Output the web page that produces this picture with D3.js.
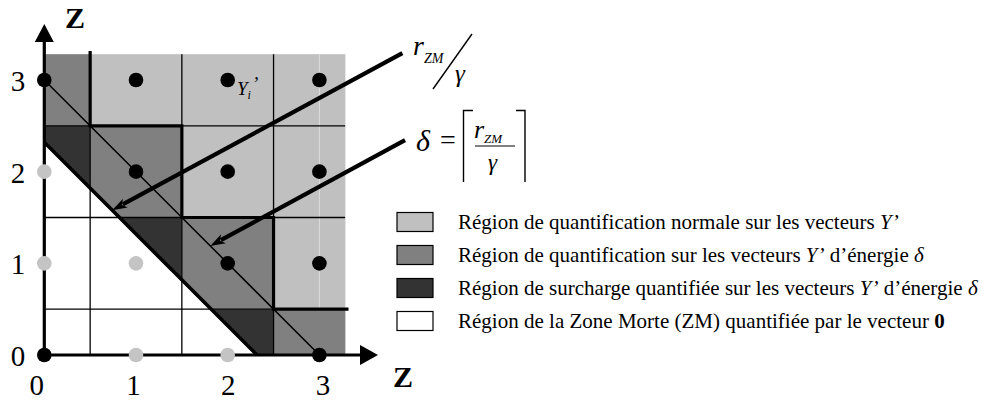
<!DOCTYPE html>
<html><head><meta charset="utf-8">
<script src="https://cdn.jsdelivr.net/npm/d3@7"></script>
<style>
html,body{margin:0;padding:0;background:#fff;}
svg{display:block;}
svg text{font-family:"Liberation Serif","Times New Roman",serif;fill:#000;}
</style></head>
<body><svg id="c" width="999" height="401"></svg>
<script>
// ---- data ----
const tickValues = [0, 1, 2, 3];
const tickLabels = ["0", "1", "2", "3"];
const blackPoints = [[0,3],[1,3],[2,3],[3,3],[1,2],[2,2],[3,2],[2,1],[3,1],[0,0],[3,0]];
const grayPoints = [[0,2],[0,1],[1,1],[1,0],[2,0]];
const rOverGamma = 2.32;      // dead-zone radius r_ZM / gamma
const delta = 3;              // ceil(r_ZM / gamma)
const gridExtent = 3.28;      // extent of the shaded lattice area
const staircase = [[0.5,3.3],[0.5,2.5],[1.5,2.5],[1.5,1.5],[2.5,1.5],[2.5,0.5],[3.3,0.5]];
const arrowRZM = {from:[3.905,3.293], to:[0.74,rOverGamma-0.74]};
const arrowDelta = {from:[3.934,2.345], to:[1.81,delta-1.81]};
const legendLabels = [
  ["Région de quantification normale sur les vecteurs ", ["Y’","i"]],
  ["Région de quantification sur les vecteurs ", ["Y’","i"], " d’énergie ", ["δ","i"]],
  ["Région de surcharge quantifiée sur les vecteurs ", ["Y’","i"], " d’énergie ", ["δ","i"]],
  ["Région de la Zone Morte (ZM) quantifiée par le vecteur ", ["0","b"]]
];
const colors = {light:"#c0c0c0", medium:"#808080", dark:"#333333", dead:"#ffffff", grayDot:"#c4c4c4"};
const legendColors = [colors.light, colors.medium, colors.dark, colors.dead];

// ---- drawing ----
const svg = d3.select("#c");
const x = d3.scaleLinear().domain([0,3]).range([44.3, 319.4]);
const y = d3.scaleLinear().domain([0,3]).range([355, 80]);
const line = d3.line().x(d=>x(d[0])).y(d=>y(d[1]));

// cells
const cells = [];
for (let i=0;i<=3;i++) for (let j=0;j<=3;j++) {
  const s = i+j;
  cells.push({x0:Math.max(0,i-0.5), x1:i===3?gridExtent:i+0.5,
              y0:Math.max(0,j-0.5), y1:j===3?gridExtent:j+0.5,
              c: s<delta?colors.dark:(s===delta?colors.medium:colors.light)});
}
svg.append("g").selectAll("rect").data(cells).join("rect")
  .attr("x",d=>x(d.x0)).attr("y",d=>y(d.y1))
  .attr("width",d=>x(d.x1)-x(d.x0)).attr("height",d=>y(d.y0)-y(d.y1))
  .attr("fill",d=>d.c).attr("stroke",d=>d.c).attr("stroke-width",0.5);
// dead zone
svg.append("path").attr("d", line([[0,0],[rOverGamma,0],[0,rOverGamma]])+"Z").attr("fill",colors.dead);

// faint line at x=3
svg.append("line").attr("x1",x(3)).attr("x2",x(3)).attr("y1",y(0.5)).attr("y2",y(gridExtent))
  .attr("stroke","#dcdcdc").attr("stroke-width",1);

// grid
const gl = [0.5,1.5,2.5];
const gg = svg.append("g").attr("stroke","#000").attr("stroke-width",1.3);
gl.forEach(v=>{
  gg.append("line").attr("x1",x(v)).attr("x2",x(v)).attr("y1",y(0)).attr("y2",y(gridExtent));
  gg.append("line").attr("y1",y(v)).attr("y2",y(v)).attr("x1",x(0)).attr("x2",x(gridExtent));
});

// diagonals
svg.append("path").attr("d", line([[0,delta],[delta,0]])).attr("stroke","#000").attr("stroke-width",1.5).attr("fill","none");
svg.append("path").attr("d", line([[0,rOverGamma],[rOverGamma,0]])).attr("stroke","#000").attr("stroke-width",3.6).attr("fill","none");
// staircase
svg.append("path").attr("d", line(staircase)).attr("stroke","#000").attr("stroke-width",3.2).attr("fill","none").attr("stroke-linejoin","miter").attr("stroke-linecap","square");

// axes
svg.append("line").attr("x1",x(0)).attr("x2",360).attr("y1",y(0)).attr("y2",y(0)).attr("stroke","#000").attr("stroke-width",3.2);
svg.append("line").attr("x1",x(0)).attr("x2",x(0)).attr("y1",y(0)+1.5).attr("y2",41).attr("stroke","#000").attr("stroke-width",3.2);
svg.append("path").attr("d",`M360,${y(0)-10} L378,${y(0)} L360,${y(0)+10} Z`).attr("fill","#000");
svg.append("path").attr("d",`M${x(0)-9.5},42 L${x(0)},24 L${x(0)+9.5},42 Z`).attr("fill","#000");

const ax = svg.append("g").attr("transform",`translate(0,${y(0)})`)
  .call(d3.axisBottom(x).tickValues(tickValues).tickFormat((d,i)=>tickLabels[i]).tickSize(0));
ax.attr("font-family",null).attr("font-size",null);
ax.select(".domain").remove();
ax.selectAll("text").attr("y",40).attr("dy",0).style("font-size","29px")
  .attr("dx",d=>d===0?-8:(d===3?3:(d===1?-3:0)));
const ay = svg.append("g").attr("transform",`translate(${x(0)},0)`)
  .call(d3.axisLeft(y).tickValues(tickValues).tickFormat((d,i)=>tickLabels[i]).tickSize(0).tickPadding(19));
ay.attr("font-family",null).attr("font-size",null);
ay.select(".domain").remove();
ay.selectAll("text").style("font-size","29px").attr("dy","0.36em");

svg.append("text").attr("x",65).attr("y",28).style("font-size","30px").style("font-weight","bold").text("Z");
svg.append("text").attr("x",393).attr("y",387).style("font-size","30px").style("font-weight","bold").text("Z");

// points
svg.append("g").selectAll("circle").data(grayPoints).join("circle")
  .attr("cx",d=>x(d[0])).attr("cy",d=>y(d[1])).attr("r",7.3).attr("fill",colors.grayDot);
svg.append("g").selectAll("circle").data(blackPoints).join("circle")
  .attr("cx",d=>x(d[0])).attr("cy",d=>y(d[1])).attr("r",7.3).attr("fill","#000");

// Y_i' label
const yl = svg.append("text").attr("x",237).attr("y",95).style("font-size","19px").style("font-style","italic");
yl.append("tspan").text("Y");
yl.append("tspan").style("font-size","12px").attr("dy",4).text("i");
yl.append("tspan").attr("dy",-9).attr("dx",1).text("’");

// arrows
function arrow(a){
  const x1=x(a.from[0]), y1=y(a.from[1]), x2=x(a.to[0]), y2=y(a.to[1]);
  const ang=Math.atan2(y2-y1,x2-x1), L=15, W=5;
  const bx=x2-L*Math.cos(ang), by=y2-L*Math.sin(ang);
  svg.append("line").attr("x1",x1).attr("y1",y1).attr("x2",bx+3*Math.cos(ang)).attr("y2",by+3*Math.sin(ang))
    .attr("stroke","#000").attr("stroke-width",4.2);
  const px=-Math.sin(ang), py=Math.cos(ang);
  svg.append("path").attr("d",`M${x2},${y2} L${bx+W*px},${by+W*py} L${bx+4*Math.cos(ang)},${by+4*Math.sin(ang)} L${bx-W*px},${by-W*py} Z`).attr("fill","#000");
}
arrow(arrowRZM); arrow(arrowDelta);

// r_ZM / gamma
svg.append("text").attr("x",413).attr("y",55).style("font-size","28px").style("font-style","italic").text("r");
svg.append("text").attr("x",424).attr("y",63).style("font-size","14px").style("font-style","italic").text("ZM");
svg.append("line").attr("x1",433).attr("y1",89).attr("x2",472).attr("y2",34).attr("stroke","#000").attr("stroke-width",1.4);
svg.append("text").attr("x",455).attr("y",82).style("font-size","25px").style("font-style","italic").text("γ");

// delta = ceil(r_ZM/gamma)
svg.append("text").attr("x",416).attr("y",151).style("font-size","30px").style("font-style","italic").text("δ");
svg.append("text").attr("x",440).attr("y",149).style("font-size","28px").text("=");
svg.append("path").attr("d","M473,110.5 H463.5 V182").attr("stroke","#000").attr("stroke-width",1.4).attr("fill","none");
svg.append("path").attr("d","M516,110.5 H525 V182").attr("stroke","#000").attr("stroke-width",1.4).attr("fill","none");
svg.append("text").attr("x",474).attr("y",138).style("font-size","26px").style("font-style","italic").text("r");
svg.append("text").attr("x",484).attr("y",143).style("font-size","13px").style("font-style","italic").text("ZM");
svg.append("line").attr("x1",475).attr("x2",515).attr("y1",146).attr("y2",146).attr("stroke","#000").attr("stroke-width",1.2);
svg.append("text").attr("x",488).attr("y",170).style("font-size","23px").style("font-style","italic").text("γ");

// legend
const lg = svg.append("g");
const legendTexts = [];
legendLabels.forEach((parts,i)=>{
  const cy = 222 + i*33;
  lg.append("rect").attr("x",397).attr("y",cy-9.5).attr("width",36).attr("height",19)
    .attr("fill",legendColors[i]).attr("stroke","#000").attr("stroke-width",1.2);
  const t = lg.append("text").attr("x",458).attr("y",cy+6.5).style("font-size","20px");
  parts.forEach(p=>{
    if (typeof p==="string") { if(p) t.append("tspan").text(p); }
    else {
      const s=t.append("tspan").text(p[0]);
      if (p[1]==="i") s.style("font-style","italic");
      if (p[1]==="b") s.style("font-weight","bold");
    }
  });
  legendTexts.push(t);
});
// size the legend font so rows 3 and 4 span about as in the reference
const w3 = legendTexts[2].node().getComputedTextLength();
const w4 = legendTexts[3].node().getComputedTextLength();
const fs = Math.min(21.5, 20 * (508 + 499) / (w3 + w4));
legendTexts.forEach(t=>t.style("font-size", fs+"px"));
</script></body></html>
